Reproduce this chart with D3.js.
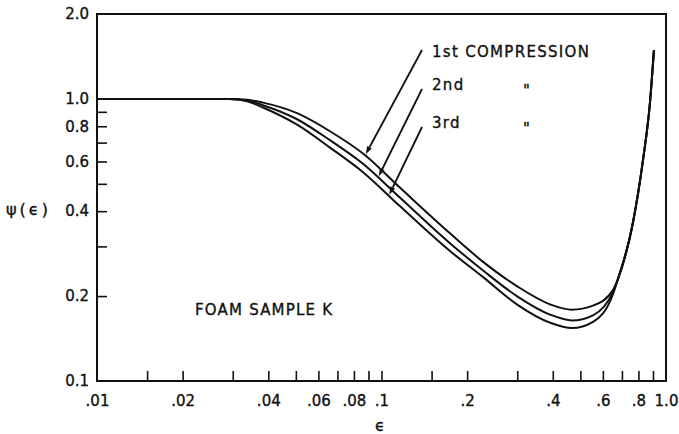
<!DOCTYPE html>
<html>
<head>
<meta charset="utf-8">
<script src="https://cdn.jsdelivr.net/npm/d3@7"></script>
<style>
  html, body { margin: 0; padding: 0; background: #fff; }
  svg text { font-family: "DejaVu Sans", sans-serif; fill: #111; stroke: #111; stroke-width: 0.35px; }
</style>
</head>
<body>
<svg id="chart" width="679" height="434"></svg>
<script>
// Strain values shared by the three compression runs
const strain = [0.01, 0.02, 0.0293, 0.0337, 0.0383, 0.0505, 0.0659, 0.0861, 0.116, 0.174,
                0.227, 0.299, 0.391, 0.467, 0.554, 0.651, 0.678, 0.766, 0.830, 0.878, 0.907];
// psi(eps) for each compression of foam sample K
const firstCompression  = [1.0, 1.0, 1.0, 0.993, 0.970, 0.890, 0.768, 0.640, 0.485, 0.334,
                           0.265, 0.217, 0.187, 0.179, 0.185, 0.210, 0.230, 0.366, 0.607, 0.966, 1.49];
const secondCompression = [1.0, 1.0, 1.0, 0.987, 0.950, 0.847, 0.714, 0.589, 0.447, 0.308,
                           0.247, 0.200, 0.172, 0.164, 0.171, 0.207, 0.230, 0.366, 0.607, 0.966, 1.49];
const thirdCompression  = [1.0, 1.0, 1.0, 0.981, 0.932, 0.810, 0.672, 0.550, 0.417, 0.289,
                           0.234, 0.187, 0.161, 0.154, 0.162, 0.203, 0.230, 0.366, 0.607, 0.966, 1.49];

const seriesLabels = ["1st COMPRESSION", "2nd", "3rd"];
const dittoMark = "\"";
const sampleLabel = "FOAM SAMPLE K";
// strain at which each label arrow meets its curve
const arrowStrain = [0.0880, 0.0978, 0.1065];

const xTickValues = [0.015, 0.02, 0.03, 0.04, 0.05, 0.06, 0.07, 0.08, 0.09, 0.1,
                     0.15, 0.2, 0.3, 0.4, 0.5, 0.6, 0.7, 0.8, 0.9];
const xLabelValues = [0.01, 0.02, 0.04, 0.06, 0.08, 0.1, 0.2, 0.4, 0.6, 0.8, 1.0];
const xTickLabels = [".01", ".02", ".04", ".06", ".08", ".1", ".2", ".4", ".6", ".8", "1.0"];
const yTickValues = [0.2, 0.3, 0.4, 0.5, 0.6, 0.7, 0.8, 0.9];
const yLabelValues = [0.1, 0.2, 0.4, 0.6, 0.8, 1.0, 2.0];
const yTickLabels = ["0.1", "0.2", "0.4", "0.6", "0.8", "1.0", "2.0"];

const margin = { left: 97, right: 13, top: 14, bottom: 53 };
const W = 679, H = 434;
const svg = d3.select("#chart");

const x = d3.scaleLog().domain([0.01, 1.0]).range([margin.left, W - margin.right]);
const y = d3.scaleLog().domain([0.1, 2.0]).range([H - margin.bottom, margin.top]);
const ink = "#111";

// frame
svg.append("rect")
  .attr("x", x.range()[0]).attr("y", y.range()[1])
  .attr("width", x.range()[1] - x.range()[0])
  .attr("height", y.range()[0] - y.range()[1])
  .attr("fill", "none").attr("stroke", ink).attr("stroke-width", 2);

function styleAxis(g) {
  g.select(".domain").remove();
  g.selectAll("line").attr("stroke", ink).attr("stroke-width", 1.6);
  g.selectAll("text").attr("font-family", "DejaVu Sans, sans-serif")
    .attr("font-size", 15).attr("fill", ink);
}

// inward ticks on the bottom axis
svg.append("g").attr("transform", `translate(0,${y.range()[0]})`)
  .call(d3.axisBottom(x).tickValues(xTickValues).tickSize(-10).tickFormat(""))
  .call(styleAxis);
svg.append("g").attr("transform", `translate(0,${y.range()[0]})`)
  .call(d3.axisBottom(x).tickValues(xLabelValues).tickSize(0).tickPadding(14)
        .tickFormat((d, i) => xTickLabels[i]))
  .call(styleAxis);

// inward ticks on the left axis
svg.append("g").attr("transform", `translate(${x.range()[0]},0)`)
  .call(d3.axisLeft(y).tickValues(yTickValues).tickSize(-10).tickFormat(""))
  .call(styleAxis);
svg.append("g").attr("transform", `translate(${x.range()[0]},0)`)
  .call(d3.axisLeft(y).tickValues(yLabelValues).tickSize(0).tickPadding(8)
        .tickFormat((d, i) => yTickLabels[i]))
  .call(styleAxis);

// axis titles
svg.append("text").attr("x", 6).attr("y", 215)
  .attr("font-size", 16).attr("letter-spacing", 3).text("ψ(ϵ)");
svg.append("text").attr("x", 380).attr("y", 431)
  .attr("font-size", 16).attr("text-anchor", "middle").text("ϵ");

// curves
const line = d3.line()
  .x(d => x(d[0])).y(d => y(d[1]))
  .curve(d3.curveMonotoneX);

const series = [firstCompression, secondCompression, thirdCompression];
const paths = series.map(vals => svg.append("path")
  .datum(strain.map((s, i) => [s, vals[i]]))
  .attr("d", line)
  .attr("fill", "none").attr("stroke", ink)
  .attr("stroke-width", 2).attr("stroke-linejoin", "round").node());

// point on a rendered curve at a given screen x
function pointAtX(node, px) {
  let lo = 0, hi = node.getTotalLength();
  for (let k = 0; k < 40; k++) {
    const mid = (lo + hi) / 2;
    if (node.getPointAtLength(mid).x < px) lo = mid; else hi = mid;
  }
  return node.getPointAtLength((lo + hi) / 2);
}

// labels with arrows
const labelX = 432;
const labelBaselines = [57, 90, 128];
const arrowStartDy = [-7, -1, -1];
seriesLabels.forEach((lab, i) => {
  svg.append("text").attr("x", labelX).attr("y", labelBaselines[i])
    .attr("font-size", 15).attr("letter-spacing", 1.3).text(lab);
  if (i > 0) {
    svg.append("text").attr("x", 523).attr("y", labelBaselines[i] + 6)
      .attr("font-size", 15).text(dittoMark);
  }
  const start = { x: labelX - 10, y: labelBaselines[i] + arrowStartDy[i] };
  const p = pointAtX(paths[i], x(arrowStrain[i]));
  const tip = { x: p.x, y: p.y - 1.5 };
  const dx = tip.x - start.x, dy = tip.y - start.y;
  const len = Math.hypot(dx, dy);
  const ux = dx / len, uy = dy / len;
  const headLen = 8, headHalf = 2.6;
  const base = { x: tip.x - ux * headLen, y: tip.y - uy * headLen };
  svg.append("line")
    .attr("x1", start.x).attr("y1", start.y)
    .attr("x2", base.x).attr("y2", base.y)
    .attr("stroke", ink).attr("stroke-width", 1.8);
  svg.append("path")
    .attr("d", `M${tip.x},${tip.y}L${base.x - uy * headHalf},${base.y + ux * headHalf}` +
               `L${base.x + uy * headHalf},${base.y - ux * headHalf}Z`)
    .attr("fill", ink);
});

svg.append("text").attr("x", 195).attr("y", 315)
  .attr("font-size", 15).attr("letter-spacing", 1.2).text(sampleLabel);
</script>
</body>
</html>
